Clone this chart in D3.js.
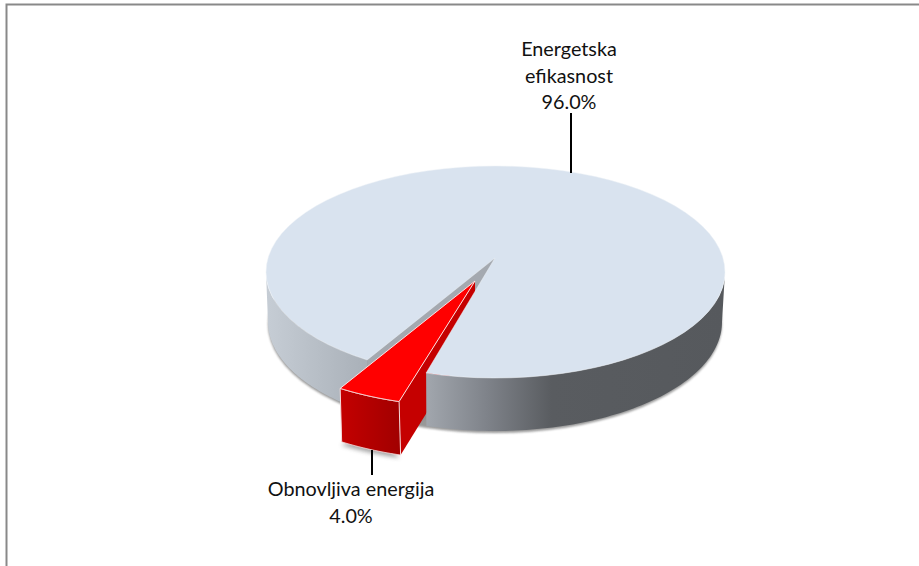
<!DOCTYPE html>
<html><head><meta charset="utf-8">
<script src="https://cdn.jsdelivr.net/npm/d3@7"></script>
<style>html,body{margin:0;padding:0;background:#fff}svg{display:block}text{font-family:Lato,"Open Sans",sans-serif;font-size:19.8px;fill:#111}</style>
</head><body><svg id="c" width="919" height="566"></svg>
<script>
const categories = ["Energetska efikasnost", "Obnovljiva energija"];
const labelLines = [["Energetska","efikasnost","96.0%"],["Obnovljiva energija","4.0%"]];
const values = [96, 4];

const svg = d3.select("#c");
const rad = d=>d*Math.PI/180;
const cx=495.5, cy=272, rx=229.5, ry=106;
const bcx=495, bcy=322, brx=227, bry=109;
const depth=53.5;
const apex=[495,258];
const redApexShift=[-20,23], redRimShift=[-27,28.5];
const gap=rad(1);
const slices=d3.pie().sort(null).value(d=>d).startAngle(rad(213)).endAngle(rad(213+360))(values);
const main=slices[0], red=slices[1];
const P=(a,dx=0,dy=0)=>[cx+rx*Math.sin(a)+dx, cy-ry*Math.cos(a)+dy];
const B=a=>[bcx+brx*Math.sin(a), bcy-bry*Math.cos(a)];
const span=(a0,a1,f)=>d3.range(0,81).map(i=>f(a0+(a1-a0)*i/80));
const samples=(a0,a1,dx=0,dy=0)=>span(a0,a1,a=>P(a,dx,dy));
const line=d3.line();
const poly=(pts)=>line(pts)+"Z";

const defs=svg.append("defs");
function grad(id,x1,x2,stops){
  const g=defs.append("linearGradient").attr("id",id).attr("gradientUnits","userSpaceOnUse")
    .attr("x1",x1).attr("x2",x2).attr("y1",0).attr("y2",0);
  stops.forEach(s=>g.append("stop").attr("offset",s[0]).attr("stop-color",s[1]));
}
grad("wallR",427,724,[[0,"#a1a6ad"],[.2,"#7f838a"],[.42,"#595c60"],[1,"#56595d"]]);
grad("wallL",266,367,[[0,"#c6cdd5"],[1,"#a9b0b8"]]);
grad("redFront",340,402,[[0,"#c40000"],[1,"#a00000"]]);
defs.append("filter").attr("id","blur").attr("x","-20%").attr("y","-20%").attr("width","140%").attr("height","140%")
  .append("feGaussianBlur").attr("stdDeviation",2);
defs.append("filter").attr("id","blur2").attr("x","-5%").attr("y","-5%").attr("width","110%").attr("height","110%")
  .append("feGaussianBlur").attr("stdDeviation",1);

const a0=main.startAngle+gap, a1=main.endAngle-gap;
// frame
svg.append("path").attr("d","M6.5,566V4.5H919").attr("fill","none").attr("stroke","#898989").attr("stroke-width",2);

// main body shadow
svg.append("path").attr("d",poly(span(0,2*Math.PI,B))).attr("fill","#808080").attr("opacity",.8)
  .attr("transform","translate(0,2)").attr("filter","url(#blur2)");

// red rim (same notch angles as the main slice)
const rimTop=samples(red.startAngle-gap,red.endAngle+gap,redRimShift[0],redRimShift[1]);
const rimBot=rimTop.map(p=>[p[0]+1.5,p[1]+depth]);
const rA=[apex[0]+redApexShift[0],apex[1]+redApexShift[1]];

// shadow of the exploded slice
svg.append("path").attr("d",poly([...rimBot,[428,415],[428,395],[340,395]])).attr("fill","#888").attr("opacity",.75)
  .attr("transform","translate(-1,3)").attr("filter","url(#blur)");

const wallPath=(s,e)=>poly([...samples(s,e),...span(e,s,B)]);
// main outer wall, left of the notch
svg.append("path").attr("d",wallPath(rad(270),a0)).attr("fill","url(#wallL)");

// notch wall seen through the gap
svg.append("path").attr("d",poly([apex,P(a0),B(a0),[apex[0]-6,apex[1]+depth]])).attr("fill","#a4a9b0");

// red side wall
const rN=rimTop[0];
svg.append("path").attr("d",poly([rA,rN,[rN[0]+1.5,rN[1]+depth],[rA[0],rA[1]+depth]])).attr("fill","#c50000");

// main outer wall, right of the notch
svg.append("path").attr("d",wallPath(rad(450),a1)).attr("fill","url(#wallR)");

// main top face
svg.append("path").attr("d",poly([apex,...samples(a0,a1)])).attr("fill","#d9e3ef").attr("stroke","#eef2f7").attr("stroke-width",.5);

// red faces
svg.append("path").attr("d",poly([...rimTop,...rimBot.slice().reverse()])).attr("fill","url(#redFront)")
  .attr("stroke","#f6dcdc").attr("stroke-width",1);
svg.append("path").attr("d",poly([rA,...rimTop])).attr("fill","#ff0000").attr("stroke","#fbe3e3").attr("stroke-width",1);

// leaders
const leaders=[[571,113,571,173],[372,450,372,475]];
svg.selectAll("line.l").data(leaders).join("line").attr("class","l")
  .attr("x1",d=>d[0]).attr("y1",d=>d[1]).attr("x2",d=>d[2]).attr("y2",d=>d[3])
  .attr("stroke","#000").attr("stroke-width",2);

// labels
const labelPos=[[569,56],[351,496]];
labelLines.forEach((ls,i)=>{
  const t=svg.append("text").attr("text-anchor","middle").attr("aria-label",categories[i]);
  ls.forEach((s,j)=>t.append("tspan").attr("x",labelPos[i][0]).attr("y",labelPos[i][1]+j*26.5).text(s));
});
</script></body></html>
